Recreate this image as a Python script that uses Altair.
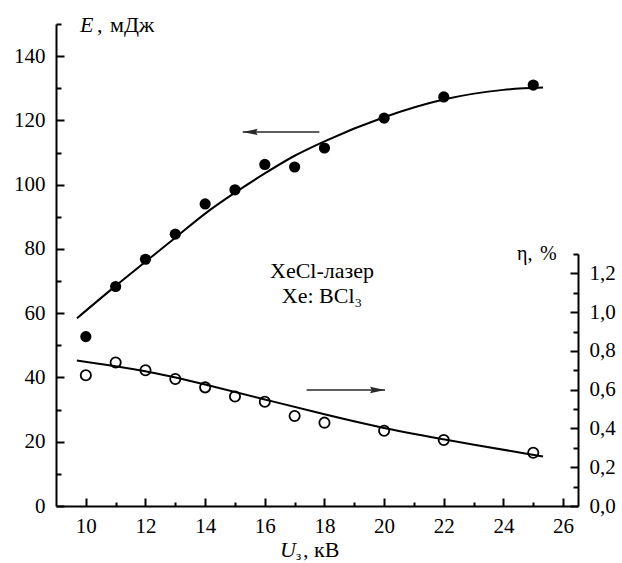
import altair as alt
import pandas as pd

# ---------------- data ----------------
voltage = [10, 11, 12, 13, 14, 15, 16, 17, 18, 20, 22, 25]
energy = [52.7, 68.3, 76.8, 84.6, 94.0, 98.4, 106.3, 105.5, 111.4, 120.7, 127.3, 131.0]
efficiency = [0.675, 0.74, 0.70, 0.655, 0.612, 0.565, 0.538, 0.464, 0.43, 0.388, 0.34, 0.275]

fit_voltage_E = [9.7, 11, 12, 13, 14, 15, 16, 17, 18, 20, 22, 24, 25.33]
fit_energy = [58.4, 68.5, 76.0, 83.5, 91.0, 97.5, 103.5, 109.0, 113.5, 121.0, 126.5, 129.5, 130.2]
fit_voltage_eta = [9.7, 12, 14, 16, 18, 20, 22, 25.33]
fit_eta = [0.75, 0.70, 0.627, 0.55, 0.472, 0.40, 0.343, 0.255]

arrow_left_x = [17.83, 15.26]   # tail, tip (E scale)
arrow_left_y = [116.4, 116.4]
arrow_right_x = [17.40, 20.03]  # tail, tip (E scale)
arrow_right_y = [36.1, 36.1]

x_major = [10, 12, 14, 16, 18, 20, 22, 24, 26]
x_all = list(range(10, 27))
E_major = [0, 20, 40, 60, 80, 100, 120, 140]
E_all = list(range(0, 151, 10))
eta_major = [0.0, 0.2, 0.4, 0.6, 0.8, 1.0, 1.2]
eta_all = [round(0.1 * i, 1) for i in range(14)]

# ---------------- layout ----------------
W, H = 522, 482
FONT = "Liberation Serif"

xs = alt.Scale(domain=[9, 26.5], nice=False, zero=False)
ys_E = alt.Scale(domain=[0, 150], nice=False, zero=False)
ys_eta = alt.Scale(domain=[0, 1.3], range=[H, 230], nice=False, zero=False)

common = dict(title=None, grid=False, labelFont=FONT, labelColor="black",
              domainColor="black", tickColor="black")

ax_x_labels = alt.Axis(orient="bottom", values=x_major, ticks=False, domain=True,
                       domainWidth=2, labelFontSize=21, labelPadding=9,
                       labelFlush=False, labelOverlap=False, **common)
ax_x_ticks = alt.Axis(orient="top", offset=-H, values=x_all, labels=False, domain=False,
                      ticks=True, tickWidth=2,
                      tickSize={"condition": {"test": "datum.value % 2 === 0", "value": 8}, "value": 4},
                      **common)
ax_E_labels = alt.Axis(orient="left", values=E_major, ticks=False, domain=True,
                       domainWidth=2, labelFontSize=21, labelPadding=11,
                       labelFlush=False, labelOverlap=False, **common)
ax_E_ticks = alt.Axis(orient="right", offset=-W, values=E_all, labels=False, domain=False,
                      ticks=True, tickWidth=2,
                      tickSize={"condition": {"test": "datum.value % 20 === 0", "value": 8}, "value": 5},
                      **common)
ax_eta_labels = alt.Axis(orient="right", values=eta_major, ticks=False, domain=True,
                         domainWidth=2, labelFontSize=21, labelPadding=11,
                         labelExpr="replace(format(datum.value, '.1f'), '.', ',')",
                         labelFlush=False, labelOverlap=False, **common)
ax_eta_ticks = alt.Axis(orient="left", offset=-W, values=eta_all, labels=False, domain=False,
                        ticks=True, tickWidth=2,
                        tickSize={"condition": {"test": "abs(datum.value*5 - round(datum.value*5)) < 0.001",
                                                "value": 8}, "value": 5},
                        **common)

df_E = pd.DataFrame({"u": voltage, "e": energy})
df_eta = pd.DataFrame({"u": voltage, "eta": efficiency})
df_fitE = pd.DataFrame({"u": fit_voltage_E, "e": fit_energy})
df_fitEta = pd.DataFrame({"u": fit_voltage_eta, "eta": fit_eta})
df_arrL = pd.DataFrame({"u": arrow_left_x, "e": arrow_left_y})
df_arrR = pd.DataFrame({"u": arrow_right_x, "e": arrow_right_y})

E_line = alt.Chart(df_fitE).mark_line(color="black", strokeWidth=2, interpolate="monotone").encode(
    x=alt.X("u:Q", scale=xs, axis=ax_x_labels),
    y=alt.Y("e:Q", scale=ys_E, axis=ax_E_labels),
)
E_pts = alt.Chart(df_E).mark_circle(size=125, color="black", opacity=1).encode(
    x=alt.X("u:Q", scale=xs, axis=ax_x_ticks),
    y=alt.Y("e:Q", scale=ys_E, axis=ax_E_ticks),
)
eta_line = alt.Chart(df_fitEta).mark_line(color="black", strokeWidth=2, interpolate="basis").encode(
    x=alt.X("u:Q", scale=xs, axis=None),
    y=alt.Y("eta:Q", scale=ys_eta, axis=ax_eta_labels),
)
eta_pts = alt.Chart(df_eta).mark_point(shape="circle", filled=False, size=105, strokeWidth=1.8,
                                        color="black", opacity=1).encode(
    x=alt.X("u:Q", scale=xs, axis=None),
    y=alt.Y("eta:Q", scale=ys_eta, axis=ax_eta_ticks),
)

arrow_col = "#2a2a2a"
arrL = alt.Chart(df_arrL).mark_line(color=arrow_col, strokeWidth=1.6).encode(
    x=alt.X("u:Q", scale=xs, axis=None), y=alt.Y("e:Q", scale=ys_E, axis=None))
arrR = alt.Chart(df_arrR).mark_line(color=arrow_col, strokeWidth=1.6).encode(
    x=alt.X("u:Q", scale=xs, axis=None), y=alt.Y("e:Q", scale=ys_E, axis=None))
headL = alt.Chart(df_arrL.iloc[[1]]).mark_point(
    shape="M0,0 L2,-0.42 L1.75,0 L2,0.42 Z", filled=True, size=225, color=arrow_col,
    opacity=1, strokeWidth=0).encode(
    x=alt.X("u:Q", scale=xs, axis=None), y=alt.Y("e:Q", scale=ys_E, axis=None))
headR = alt.Chart(df_arrR.iloc[[1]]).mark_point(
    shape="M0,0 L-2,-0.42 L-1.75,0 L-2,0.42 Z", filled=True, size=225, color=arrow_col,
    opacity=1, strokeWidth=0).encode(
    x=alt.X("u:Q", scale=xs, axis=None), y=alt.Y("e:Q", scale=ys_E, axis=None))


def label(txt, x, y, size=20, style="normal", align="left"):
    return alt.Chart(pd.DataFrame({"t": [txt]})).mark_text(
        font=FONT, fontSize=size, fontStyle=style, color="black", align=align,
        baseline="alphabetic").encode(text="t:N", x=alt.value(x), y=alt.value(y))


texts = [
    label("E", 24, 8, 22, "italic"),
    label(",", 41, 8, 22),
    label("мДж", 54, 8, 22),
    label("η,", 461, 236, 20),
    label("%", 484, 236, 20),
    label("U", 224, 533, 22, "italic"),
    label("з", 240, 536, 13),
    label(",", 247, 533, 22),
    label("кВ", 258, 533, 22),
    label("XeCl-лазер", 266, 254, 22, align="center"),
    label("Xe: BCl₃", 266, 279, 22, align="center"),
]

chart = alt.layer(E_line, E_pts, eta_line, eta_pts, arrL, arrR, headL, headR, *texts).resolve_scale(
    y="independent"
).resolve_axis(
    x="independent", y="independent"
).properties(
    width=W, height=H,
    padding={"left": 56, "top": 24, "right": 44, "bottom": 57},
    autosize=alt.AutoSizeParams(type="none"),
    background="white",
).configure_view(stroke=None)

chart.save("out.html", embed_options={"renderer": "svg", "actions": False})
